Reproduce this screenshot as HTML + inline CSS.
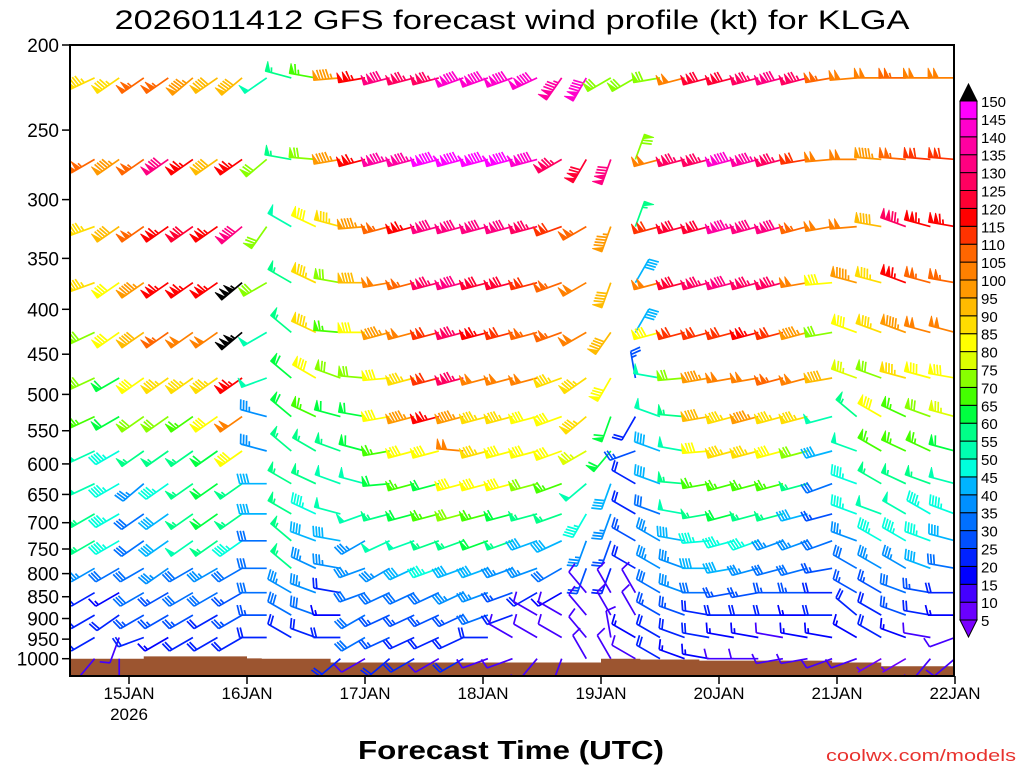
<!DOCTYPE html>
<html><head><meta charset="utf-8"><title>GFS wind profile KLGA</title>
<style>
html,body{margin:0;padding:0;background:#fff;}
svg{display:block;font-family:"Liberation Sans",sans-serif;}
</style></head>
<body>
<svg id="chart" width="1024" height="768" viewBox="0 0 1024 768" xmlns="http://www.w3.org/2000/svg">
<text x="512" y="29" text-anchor="middle" font-size="27" textLength="795" lengthAdjust="spacingAndGlyphs" fill="#000">2026011412 GFS forecast wind profile (kt) for KLGA</text>
<g id="terrain"></g>
<g id="barbs" clip-path="url(#plotclip)"></g>
<defs><clipPath id="plotclip"><rect x="70" y="45" width="884" height="631"/></clipPath></defs>
<rect x="70" y="45" width="884" height="631" fill="none" stroke="#000" stroke-width="2"/>
<g id="yaxis"></g>
<g id="xaxis"></g>
<g id="colorbar"></g>
<text x="511" y="759" text-anchor="middle" font-size="26" textLength="306" lengthAdjust="spacingAndGlyphs" fill="#000" font-weight="bold">Forecast Time (UTC)</text>
<text x="1016" y="761" text-anchor="end" font-size="17" textLength="190" lengthAdjust="spacingAndGlyphs" fill="#e8322e">coolwx.com/models</text>
</svg>
<script>
const levels = [218,270,322,373,425,479,530,580,632,684,734,789,841,892,946,1000];
const hours = [5,10,15,20,25,30,35,40,45,50,55,60,65,70,75,80,85,90,95,100,105,110,115,120,125,130,135,140,145,150,155,160,165,170,175,180];
const yTicks = [200,250,300,350,400,450,500,550,600,650,700,750,800,850,900,950,1000];
const xTickHours = [12,36,60,84,108,132,156,180];
const xTickLabels = ["15JAN","16JAN","17JAN","18JAN","19JAN","20JAN","21JAN","22JAN"];
const cbValues = [5,10,15,20,25,30,35,40,45,50,55,60,65,70,75,80,85,90,95,100,105,110,115,120,125,130,135,140,145,150];
const cbColors = ["#6a00ff","#4400ff","#0000ff","#0022ff","#0050ff","#0070ff","#0090ff","#00b4ff","#00ffdd","#00ffb0","#00ff88","#00ff40","#44ff00","#88ff00","#ddff00","#ffff00","#ffdd00","#ffbb00","#ff9900","#ff8000","#ff6600","#ff3300","#ff0000","#ff0033","#ff0060","#ff0080","#ff00a0","#ff00cc","#ff00ff"];
const terrainHours = [0,15,36,39,53,108,116,128,155,165,180];
const terrainP = [1000,994,999,1000,1010,1000,1002,1005,1010,1020,1020];

const spd0 = [85,85,105,105,95,90,90,50,55,65,95,115,130,125,125,140,140,140,140,135,140,70,70,70,100,120,120,125,130,125,105,100,100,105,100,100];
const spd1 = [105,95,105,130,115,90,115,70,55,70,95,115,135,135,145,145,145,145,140,125,120,130,70,100,125,125,140,135,125,110,100,100,95,105,110,110];
const spd2 = [85,90,105,115,120,115,130,70,50,80,85,95,105,115,130,130,130,130,125,110,105,95,55,110,120,120,135,130,130,105,100,100,90,125,115,115];
const spd3 = [85,80,95,115,115,115,155,70,55,85,70,90,100,105,125,130,120,120,110,105,100,90,40,100,120,125,130,125,125,100,80,95,85,115,105,105];
const spd4 = [70,80,90,105,100,100,155,50,55,85,65,80,95,100,110,125,115,110,105,105,100,90,40,80,110,110,110,115,110,95,70,80,85,95,100,100];
const spd5 = [70,60,80,85,85,85,115,50,60,80,70,70,80,85,110,125,100,100,100,85,85,80,25,50,70,95,100,100,105,100,90,75,70,85,80,80];
const spd6 = [65,60,70,70,65,80,100,35,60,65,60,60,80,95,115,95,85,85,80,80,85,60,20,50,55,90,85,95,85,85,50,55,80,65,70,75];
const spd7 = [50,45,55,55,55,60,80,35,55,55,55,60,65,80,80,100,85,80,80,80,75,60,25,40,50,80,85,85,80,70,40,50,65,65,65,60];
const spd8 = [50,45,35,45,55,60,55,40,55,55,50,50,60,65,60,80,80,80,70,65,50,40,20,40,55,65,65,65,65,55,30,45,55,55,55,50];
const spd9 = [55,45,30,40,55,60,55,40,55,45,50,50,55,60,65,70,65,60,55,55,45,35,20,30,50,55,60,55,55,40,25,45,50,50,45,45];
const spd10 = [55,45,30,40,50,55,45,30,55,40,40,35,50,50,55,55,60,55,40,40,35,25,25,35,40,45,45,45,35,35,30,35,45,45,45,40];
const spd11 = [35,30,30,35,30,35,30,30,55,35,35,35,35,40,45,40,40,35,35,30,25,20,20,35,35,40,40,35,30,30,25,30,35,35,40,30];
const spd12 = [20,15,30,25,30,30,25,30,35,35,20,30,30,30,30,35,35,25,20,15,10,10,10,30,35,30,25,25,25,25,20,25,25,30,25,20];
const spd13 = [20,20,25,25,25,20,25,25,30,30,15,30,25,25,25,25,30,20,10,10,10,10,10,25,25,20,20,20,20,15,20,20,20,25,20,15];
const spd14 = [20,10,20,15,20,20,20,20,20,20,20,30,25,20,20,20,20,10,10,10,10,10,15,20,20,20,15,15,10,15,15,15,20,15,10,10];
const spd15 = [10,10,null,null,null,null,null,null,null,null,20,10,20,20,10,20,10,10,10,10,10,10,10,20,15,15,10,10,10,10,10,10,5,5,10,10];

const dir0 = [245,235,235,235,230,235,230,235,285,280,265,260,255,255,255,250,250,250,245,215,210,240,240,260,255,255,255,255,255,255,260,265,270,270,270,270];
const dir1 = [240,235,235,235,235,235,235,230,280,275,260,255,255,255,255,255,255,255,255,240,210,200,20,255,255,255,255,255,255,260,265,270,275,275,275,275];
const dir2 = [250,235,235,235,235,235,230,215,300,295,285,265,255,255,255,255,255,255,255,250,240,200,20,255,255,255,255,255,255,255,260,265,280,290,285,280];
const dir3 = [250,235,235,235,235,235,230,240,300,295,280,270,260,255,255,255,255,255,255,250,240,200,30,255,255,255,255,255,255,260,265,285,285,290,285,280];
const dir4 = [245,235,235,235,235,235,230,240,310,295,275,270,255,255,255,255,255,255,255,250,240,215,30,255,255,255,255,255,255,255,260,290,290,290,285,285];
const dir5 = [245,240,235,235,235,235,235,250,310,300,290,275,265,255,255,255,255,255,255,250,235,210,350,280,265,260,260,260,255,255,260,290,290,285,285,280];
const dir6 = [245,240,235,235,235,235,235,285,310,295,285,280,260,255,255,255,255,255,255,250,230,200,210,290,275,260,255,255,255,255,255,310,300,295,290,285];
const dir7 = [245,240,235,235,235,235,235,285,310,300,290,285,260,255,255,275,255,255,255,250,240,220,250,290,280,265,255,255,255,255,255,290,300,295,295,285];
const dir8 = [245,240,230,235,235,235,235,270,300,295,290,285,265,255,255,255,255,255,255,250,230,200,300,290,275,260,255,255,255,255,250,290,300,295,290,285];
const dir9 = [240,240,235,235,235,235,235,270,300,295,285,250,255,255,255,255,255,255,255,250,210,200,300,290,280,260,255,255,255,255,255,290,290,300,300,290];
const dir10 = [240,240,235,235,235,235,235,270,310,290,280,240,245,250,250,250,250,250,250,245,200,200,300,300,280,265,255,250,250,250,250,290,300,300,290,285];
const dir11 = [240,240,240,235,240,240,240,270,310,295,280,250,240,245,250,250,250,250,250,240,200,200,300,300,290,270,260,255,255,255,260,300,300,300,290,280];
const dir12 = [240,240,240,240,240,240,240,270,300,290,280,250,245,245,245,245,250,250,240,240,320,330,330,300,290,270,260,260,270,270,270,300,300,290,280,270];
const dir13 = [240,235,240,240,240,240,240,270,300,290,270,240,245,245,245,245,250,250,300,300,320,330,330,300,290,280,270,270,270,270,270,310,300,290,280,270];
const dir14 = [240,200,250,240,240,240,240,270,300,290,270,240,245,245,245,245,270,300,300,300,320,350,300,300,290,280,280,280,280,280,280,300,300,290,280,250];
const dir15 = [220,180,null,null,null,null,null,null,null,null,230,240,230,240,240,240,250,250,220,200,330,330,300,300,290,280,270,270,260,260,250,250,240,240,220,230];

const speeds = [spd0,spd1,spd2,spd3,spd4,spd5,spd6,spd7,spd8,spd9,spd10,spd11,spd12,spd13,spd14,spd15];
const dirs = [dir0,dir1,dir2,dir3,dir4,dir5,dir6,dir7,dir8,dir9,dir10,dir11,dir12,dir13,dir14,dir15];

const NS = "http://www.w3.org/2000/svg";
function yScale(p){ return 45 + 878*Math.log10(p/200); }
function xScale(h){ return 70 + h*118/24; }
function colorFor(s){
  if (s >= 150) return "#000";
  let i = Math.floor(s/5) - 1;
  if (i < 0) i = 0;
  if (i > cbColors.length-1) i = cbColors.length-1;
  return cbColors[i];
}
function mk(tag, attrs, parent){
  const e = document.createElementNS(NS, tag);
  for (const k in attrs) e.setAttribute(k, attrs[k]);
  parent.appendChild(e);
  return e;
}

// terrain
const terr = document.getElementById("terrain");
let d = "M70,676";
for (let i=0;i<terrainHours.length-1;i++){
  const x0 = xScale(terrainHours[i]), x1 = xScale(terrainHours[i+1]);
  const y = yScale(terrainP[i]);
  d += " L"+x0+","+y+" L"+x1+","+y;
}
d += " L954,676 Z";
const tp = mk("path",{d:d, fill:"#9c5530", stroke:"none"}, terr);



// barbs
const barbs = document.getElementById("barbs");
function drawBarb(x, y, spd, dir, g){
  const col = colorFor(spd);
  const L = 27, F = 10, step = 3;
  const r = dir*Math.PI/180;
  const ux = Math.sin(r), uy = -Math.cos(r);
  const px = -uy, py = ux;
  const tx = x + ux*L, ty = y + uy*L;
  let path = "M"+x.toFixed(1)+","+y.toFixed(1)+" L"+tx.toFixed(1)+","+ty.toFixed(1);
  let s = Math.round(spd/5)*5;
  let pos = 0;
  let fills = "";
  while (s >= 50){
    const ax = tx - ux*pos, ay = ty - uy*pos;
    const bx = tx - ux*(pos+5), by = ty - uy*(pos+5);
    const cx = ax + px*F, cy = ay + py*F;
    fills += "M"+ax.toFixed(1)+","+ay.toFixed(1)+" L"+cx.toFixed(1)+","+cy.toFixed(1)+" L"+bx.toFixed(1)+","+by.toFixed(1)+" Z ";
    pos += 5.5; s -= 50;
  }
  if (pos>0) pos += 1;
  while (s >= 10){
    const ax = tx - ux*pos, ay = ty - uy*pos;
    const cx = ax + px*F + ux*2.5, cy = ay + py*F + uy*2.5;
    path += " M"+ax.toFixed(1)+","+ay.toFixed(1)+" L"+cx.toFixed(1)+","+cy.toFixed(1);
    pos += step; s -= 10;
  }
  if (s >= 5){
    if (pos===0) pos = step;
    const ax = tx - ux*pos, ay = ty - uy*pos;
    const cx = ax + px*F*0.5 + ux*1.3, cy = ay + py*F*0.5 + uy*1.3;
    path += " M"+ax.toFixed(1)+","+ay.toFixed(1)+" L"+cx.toFixed(1)+","+cy.toFixed(1);
  }
  const e = mk("path",{d:path, stroke:col, "stroke-width":"1.7", fill:"none"}, g);
  if (fills){
    mk("path",{d:fills, fill:col, stroke:col, "stroke-width":"0.8"}, g);
  }
  return e;
}
for (let li=0; li<levels.length; li++){
  const y = yScale(levels[li]);
  for (let ti=0; ti<hours.length; ti++){
    const s = speeds[li][ti], dd = dirs[li][ti];
    if (s === null || dd === null) continue;
    const g = mk("g",{}, barbs);
    
    
    drawBarb(xScale(hours[ti]), y, s, dd, g);
  }
}

// y axis
const ya = document.getElementById("yaxis");
for (const p of yTicks){
  const y = yScale(p);
  mk("line",{x1:62,y1:y,x2:70,y2:y,stroke:"#000","stroke-width":"1.5"}, ya);
  const t = mk("text",{x:59,y:y+7,"text-anchor":"end","font-size":"19",fill:"#000"}, ya);
  t.textContent = p;
  
  
}
// x axis
const xa = document.getElementById("xaxis");
for (let i=0;i<xTickHours.length;i++){
  const x = xScale(xTickHours[i]);
  mk("line",{x1:x,y1:676,x2:x,y2:684,stroke:"#000","stroke-width":"1.5"}, xa);
  const t = mk("text",{x:x,y:699,"text-anchor":"middle","font-size":"17",fill:"#000"}, xa);
  t.textContent = xTickLabels[i];
  
  
}
const yr = mk("text",{x:xScale(12),y:720,"text-anchor":"middle","font-size":"17",fill:"#000"}, xa);
yr.textContent = "2026";



// colorbar
const cb = document.getElementById("colorbar");
function cbY(v){ return 101 + (150-v)/5*17.9; }
for (let i=0;i<cbColors.length;i++){
  const v0 = cbValues[i], v1 = cbValues[i+1];
  const r = mk("rect",{x:960,y:cbY(v1),width:17,height:cbY(v0)-cbY(v1),fill:cbColors[i],stroke:"#000","stroke-width":"1"}, cb);
  
  
}
mk("polygon",{points:"960,101 977,101 968.5,84",fill:"#000",stroke:"#000"}, cb);
mk("polygon",{points:"960,620 977,620 968.5,637",fill:"#7a00ff",stroke:"#000"}, cb);
for (const v of cbValues){
  const t = mk("text",{x:981,y:cbY(v)+6,"font-size":"15",fill:"#000"}, cb);
  t.textContent = v;
  
  
}
</script>
</body></html>
